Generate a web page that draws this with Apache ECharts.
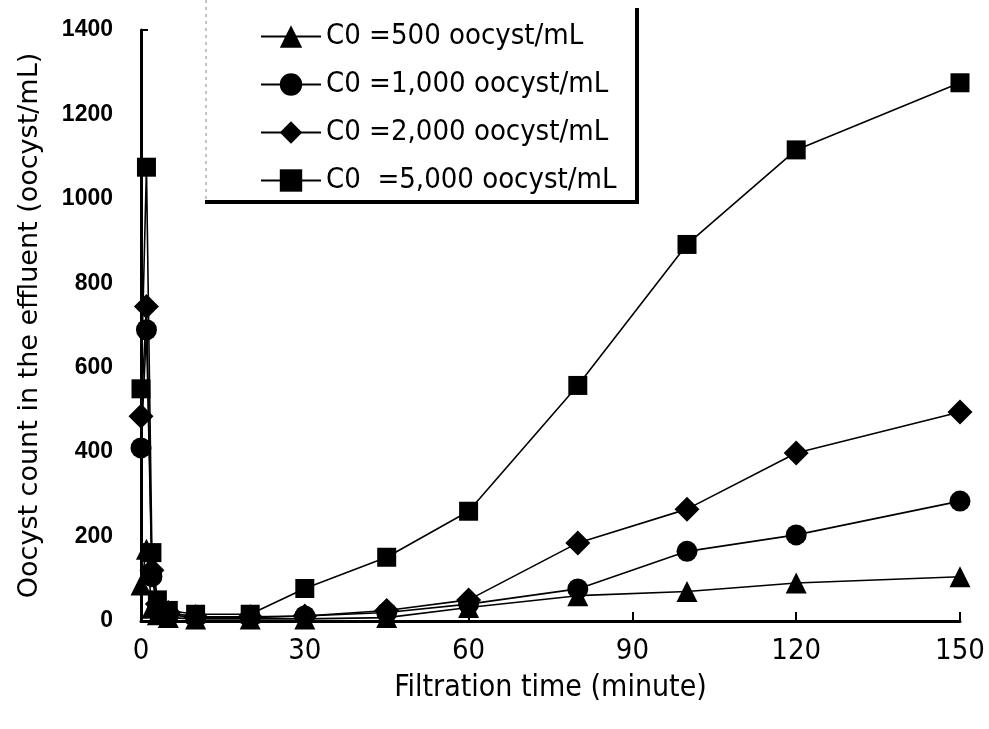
<!DOCTYPE html>
<html>
<head>
<meta charset="utf-8">
<script src="https://cdn.jsdelivr.net/npm/echarts@6/dist/echarts.min.js"></script>
<style>
  html, body { margin: 0; padding: 0; background: #fff; }
  #chart { width: 989px; height: 729px; }
</style>
</head>
<body>
<div id="chart"></div>
<script>
// Filtration time (minute) at which effluent samples were taken
const times = [0, 1, 2, 3, 5, 10, 20, 30, 45, 60, 80, 100, 120, 150];

// Oocyst count in the effluent (oocyst/mL) for each influent concentration
const c500  = [85, 170, 30, 15, 8, 5, 5, 5, 8, 32, 60, 70, 90, 105];
const c1000 = [410, 690, 105, 30, 15, 8, 8, 12, 20, 40, 76, 165, 204, 284];
const c2000 = [485, 745, 120, 40, 20, 10, 10, 12, 25, 50, 185, 265, 398, 495];
const c5000 = [550, 1075, 162, 50, 25, 16, 16, 77, 151, 260, 558, 892, 1116, 1275];

const seriesNames = [
  'C0 =500 oocyst/mL',
  'C0 =1,000 oocyst/mL',
  'C0 =2,000 oocyst/mL',
  'C0  =5,000 oocyst/mL'
];
const xTicks = [0, 30, 60, 90, 120, 150];
const yTicks = [0, 200, 400, 600, 800, 1000, 1200, 1400];

const narrow = '"DejaVu Sans Condensed", "DejaVu Sans Mono", sans-serif';
const diamond = 'path://M0,-1L1,0L0,1L-1,0Z';
const symbols = ['triangle', 'circle', diamond, 'rect'];
const sizes = [21, 21, 25, 19];
const values = [c500, c1000, c2000, c5000];

const chart = echarts.init(document.getElementById('chart'));

const series = values.map((vals, i) => ({
  name: seriesNames[i],
  type: 'line',
  data: times.map((t, k) => [t, vals[k]]),
  symbol: symbols[i],
  symbolSize: sizes[i],
  showAllSymbol: true,
  lineStyle: { color: '#000', width: 1.6 },
  itemStyle: { color: '#000', borderWidth: 0 },
  emphasis: { disabled: true },
  z: 3 + i
}));

chart.setOption({
  animation: false,
  backgroundColor: '#fff',
  grid: { left: 141, right: 29, top: 30, bottom: 108 },
  legend: {
    orient: 'vertical',
    left: 255,
    top: 17,
    itemWidth: 60,
    itemHeight: 28,
    itemGap: 19,
    data: seriesNames,
    textStyle: {
      fontFamily: narrow,
      fontSize: 29,
      color: '#000'
    }
  },
  xAxis: {
    type: 'value',
    min: xTicks[0],
    max: xTicks[xTicks.length - 1],
    interval: 30,
    name: 'Filtration time (minute)',
    nameLocation: 'middle',
    nameGap: 52,
    nameTextStyle: { fontFamily: narrow, fontSize: 30, color: '#000' },
    axisLine: { lineStyle: { color: '#000', width: 3 } },
    axisTick: { inside: true, length: 9, lineStyle: { color: '#000', width: 2 } },
    axisLabel: { fontFamily: narrow, fontSize: 29, color: '#000', margin: 16 },
    splitLine: { show: false }
  },
  yAxis: {
    type: 'value',
    min: yTicks[0],
    max: yTicks[yTicks.length - 1],
    interval: 200,
    name: 'Oocyst count in the effluent (oocyst/mL)',
    nameLocation: 'middle',
    nameGap: 98,
    nameTextStyle: { fontFamily: 'DejaVu Sans', fontSize: 27, color: '#000' },
    axisLine: { show: true, lineStyle: { color: '#000', width: 3 } },
    axisTick: { show: false },
    axisLabel: {
      fontFamily: 'Liberation Sans', fontWeight: 'bold', fontSize: 23, color: '#000', margin: 28,
      formatter: v => String(v)
    },
    splitLine: { show: false }
  },
  graphic: [
    { type: 'line', shape: { x1: 206, y1: 0, x2: 206, y2: 202 },
      style: { stroke: '#888', lineWidth: 1, lineDash: [3, 4] } },
    { type: 'line', shape: { x1: 205, y1: 202, x2: 638, y2: 202 },
      style: { stroke: '#000', lineWidth: 4 } },
    { type: 'line', shape: { x1: 637, y1: 8, x2: 637, y2: 204 },
      style: { stroke: '#000', lineWidth: 4 } },
    { type: 'line', shape: { x1: 141, y1: 30, x2: 148, y2: 30 },
      style: { stroke: '#000', lineWidth: 2 } }
  ],
  series: series
});
</script>
</body>
</html>
